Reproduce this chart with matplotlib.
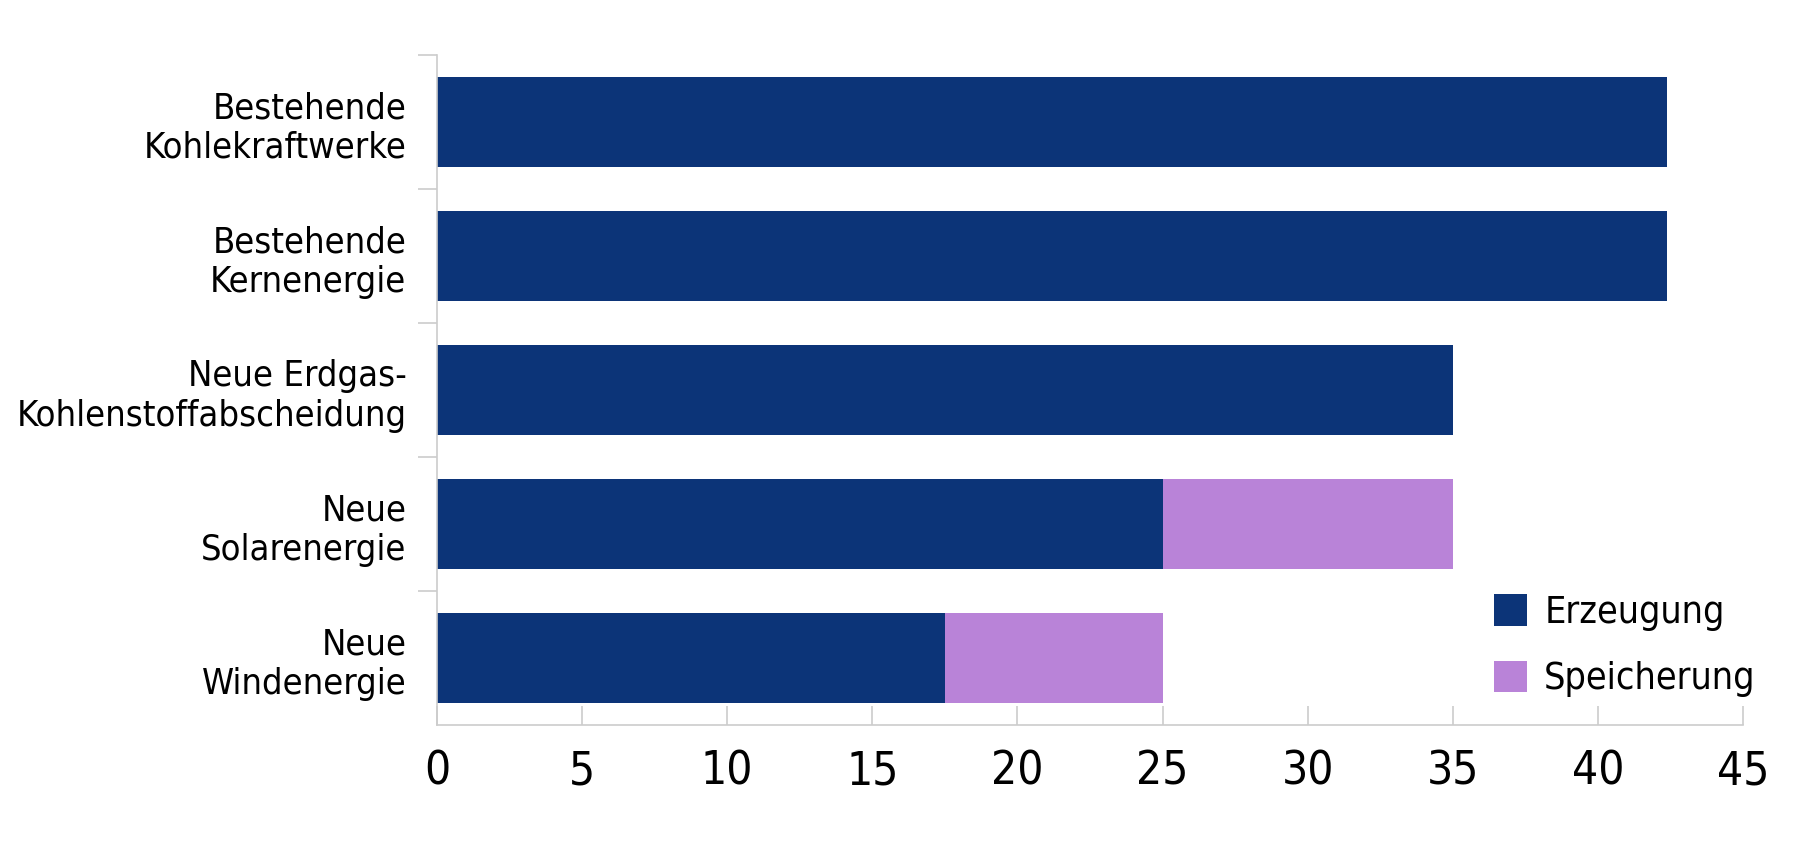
import matplotlib
matplotlib.use('Agg')
import matplotlib.pyplot as plt

plt.rcParams['font.family'] = ['DejaVu Sans']
plt.rcParams['font.stretch'] = 'condensed'

# Daten
kategorien = ['Bestehende\nKohlekraftwerke', 'Bestehende\nKernenergie',
              'Neue Erdgas-\nKohlenstoffabscheidung', 'Neue\nSolarenergie',
              'Neue\nWindenergie']
erzeugung = [42.4, 42.4, 35, 25, 17.5]
speicherung = [0, 0, 0, 10, 7.5]
x_ticks = [0, 5, 10, 15, 20, 25, 30, 35, 40, 45]

navy = '#0C3478'
lila = '#B983D8'
grau = '#CCCCCC'

fig = plt.figure(figsize=(18, 8.41), dpi=100)
ax = fig.add_axes([0.2428, 0.138, 0.7255, 0.7966])

pos = list(range(len(kategorien)))
ax.barh(pos, erzeugung, height=0.67, color=navy, label='Erzeugung')
ax.barh(pos, speicherung, left=erzeugung, height=0.67, color=lila, label='Speicherung')

ax.set_ylim(len(kategorien) - 0.5, -0.5)
ax.set_xlim(0, 45)

# Achsen
for s in ['top', 'right']:
    ax.spines[s].set_visible(False)
for s in ['left', 'bottom']:
    ax.spines[s].set_color(grau)
    ax.spines[s].set_linewidth(1.2)

ax.set_xticks(x_ticks)
ax.set_xticklabels([str(t) for t in x_ticks], fontsize=33)
ax.tick_params(axis='x', direction='in', length=14, color=grau, width=1.2, pad=18)

ax.set_yticks([p - 0.5 for p in pos])
ax.set_yticklabels([])
ax.set_yticks(pos, minor=True)
ax.set_yticklabels(kategorien, minor=True, fontsize=26, linespacing=1.2)
ax.tick_params(axis='y', which='major', direction='out', length=14, color=grau, width=1.2)
ax.tick_params(axis='y', which='minor', length=0, pad=22)

ax.legend(loc='center left', bbox_to_anchor=(0.809, 0.118), frameon=False,
          fontsize=27, handlelength=0.9, handleheight=0.9, handletextpad=0.45,
          labelspacing=0.8, borderpad=0, borderaxespad=0)

plt.savefig('out.png', dpi=100)
